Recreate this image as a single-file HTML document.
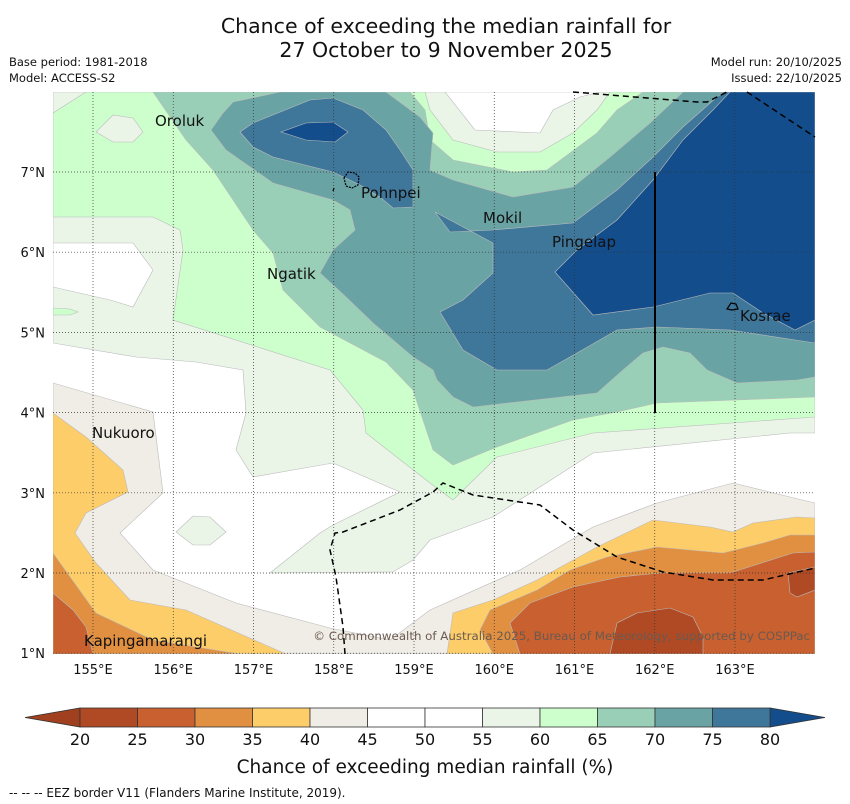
<!DOCTYPE html>
<html><head><meta charset="utf-8">
<style>
html,body{margin:0;padding:0;background:#fff;}
svg{display:block;font-family:"DejaVu Sans","Liberation Sans",sans-serif;}
</style></head>
<body>
<svg id="chart" width="850" height="804" viewBox="0 0 850 804" xmlns="http://www.w3.org/2000/svg">
<rect width="850" height="804" fill="#fff"/>
<text x="446" y="33" font-size="20.5" text-anchor="middle" fill="#111">Chance of exceeding the median rainfall for</text>
<text x="446" y="57" font-size="20.5" text-anchor="middle" fill="#111">27 October to 9 November 2025</text>
<text x="9" y="66" font-size="11.5" fill="#111">Base period: 1981-2018</text>
<text x="9" y="82" font-size="11.5" fill="#111">Model: ACCESS-S2</text>
<text x="842" y="66" font-size="11.5" fill="#111" text-anchor="end">Model run: 20/10/2025</text>
<text x="842" y="82" font-size="11.5" fill="#111" text-anchor="end">Issued: 22/10/2025</text>

<defs><clipPath id="mapclip"><rect x="53" y="92" width="762" height="562"/></clipPath></defs>
<g clip-path="url(#mapclip)" stroke="#bbb" stroke-width="0.6">
<rect x="53" y="92" width="762" height="562" fill="#fff" stroke="none"/>
<path fill="#eaf5e8" d="M53,92 L815,92 L815,433 L790,433 L593,453 L493,517 L430,540 L413,560 L393,572 L270,573 L320,533 L333,525 L400,492 L333,463 L253,477 L236,450 L246,413 L243,370 L196,362 L136,357 L53,343 Z"/>
<path fill="#fff" d="M53,243 L133,243 L153,270 L133,307 L110,300 L53,287 Z"/>
<path fill="#eaf5e8" d="M176,532 L193,516 L210,517 L226,532 L210,545 L193,545 Z"/>
<path fill="#ccffcc" d="M86,92 L815,92 L815,417 L593,433 L497,457 L453,500 L430,483 L366,433 L363,410 L330,370 L173,320 L183,250 L180,230 L153,217 L53,217 L53,113 Z"/>
<path fill="#eaf5e8" d="M96,132 L113,115 L133,118 L143,132 L133,142 L113,142 Z"/>
<path fill="#ccffcc" d="M53,308 L70,309 L78,312 L70,315 L53,315 Z"/>
<path fill="#eaf5e8" d="M425,92 L610,92 L597,110 L573,133 L540,152 L497,152 L453,140 L430,110 Z"/>
<path fill="#fff" d="M445,92 L600,92 L580,97 L553,110 L540,133 L475,130 Z"/>
<path fill="#99cfb6" d="M153,92 L410,92 L425,110 L430,140 L453,160 L513,172 L547,170 L597,133 L617,110 L643,92 L815,92 L815,397 L657,403 L617,412 L573,420 L497,447 L453,465 L433,450 L423,420 L413,390 L386,362 L320,327 L283,290 L273,253 L253,230 L213,170 L186,140 Z"/>
<path fill="#6aa3a4" d="M233,102 L280,92 L386,92 L420,117 L433,133 L430,170 L453,180 L513,197 L573,187 L610,157 L650,123 L683,92 L815,92 L815,377 L797,380 L737,383 L707,370 L690,353 L663,347 L643,353 L623,370 L597,393 L473,407 L453,397 L437,380 L433,370 L413,357 L373,323 L346,297 L320,273 L333,250 L355,230 L350,210 L333,200 L273,183 L226,150 L211,130 L223,113 Z"/>
<path fill="#3f779b" d="M240,132 L253,123 L310,100 L333,98 L363,110 L386,130 L400,150 L413,170 L413,207 L393,208 L380,197 L360,185 L333,172 L273,157 L253,147 Z"/>
<path fill="#3f779b" d="M435,212 L450,232 L493,230 L573,223 L617,190 L653,157 L683,127 L717,97 L723,92 L815,92 L815,343 L730,330 L657,327 L617,330 L577,353 L547,370 L497,370 L463,350 L440,312 L463,300 L493,273 L493,243 Z"/>
<path fill="#134d8b" d="M281,132 L306,123 L333,122 L348,132 L335,142 L306,140 Z"/>
<path fill="#134d8b" d="M555,272 L577,250 L617,220 L653,180 L683,140 L713,110 L730,92 L815,92 L815,320 L795,330 L763,313 L733,293 L710,293 L653,307 L593,315 Z"/>
<path fill="#f0ece6" d="M53,383 L153,412 L163,493 L120,533 L153,570 L236,603 L330,628 L390,640 L430,610 L520,570 L593,527 L657,503 L733,483 L790,497 L815,503 L815,654 L53,654 Z"/>
<path fill="#fdcd6a" d="M53,413 L86,437 L123,470 L128,492 L86,513 L75,533 L96,563 L130,600 L186,610 L286,654 L447,654 L453,613 L493,600 L537,580 L597,547 L653,520 L710,527 L733,532 L753,523 L797,517 L815,518 L815,654 L53,654 Z"/>
<path fill="#e09040" d="M53,553 L96,613 L153,640 L240,654 L493,654 L480,630 L490,610 L537,590 L570,570 L607,557 L657,547 L723,553 L763,543 L790,535 L815,535 L815,654 L53,654 Z"/>
<path fill="#c8602f" d="M53,593 L73,610 L86,627 L93,654 L520,654 L510,623 L530,603 L573,587 L620,577 L660,573 L730,573 L793,553 L815,552 L815,654 L53,654 Z"/>
<path fill="#b04a25" d="M610,654 L617,623 L637,613 L670,608 L693,617 L703,637 L703,654 Z"/>
<path fill="#b04a25" d="M788,573 L790,593 L797,597 L815,590 L815,567 Z"/>
</g>
<g id="grid" stroke="#333" stroke-width="0.7" stroke-dasharray="1,2" fill="none"></g>
<g fill="none" stroke="#000" stroke-width="1.5" stroke-dasharray="6,4">
<path d="M573,92 L697,102 L707,102 L727,92"/>
<path d="M747,92 L815,137"/>
<path d="M345,654 L343,627 L336,577 L330,550 L335,533 L343,532 L400,510 L433,492 L443,483 L473,495 L540,505 L573,530 L617,557 L663,572 L713,580 L763,580 L815,568"/>
</g>
<line x1="655" y1="172" x2="655" y2="413" stroke="#000" stroke-width="2"/>
<g fill="none" stroke="#000" stroke-width="1.2">
<path d="M344,178 L348,172 L355,173 L359,177 L358,185 L352,188 L346,186 Z" stroke-dasharray="2,1"/>
<path d="M727,309 L731,303 L736,304 L738,309 L732,310 Z"/>
<line x1="333" y1="191" x2="334" y2="188"/>
</g>
<g font-size="15" fill="#111">
<text x="155" y="126">Oroluk</text>
<text x="361" y="198">Pohnpei</text>
<text x="483" y="223">Mokil</text>
<text x="552" y="247">Pingelap</text>
<text x="267" y="279">Ngatik</text>
<text x="740" y="321">Kosrae</text>
<text x="92" y="438">Nukuoro</text>
<text x="84" y="646">Kapingamarangi</text>
</g>
<text x="810" y="640" font-size="11.8" fill="#6a5a50" text-anchor="end">© Commonwealth of Australia 2025, Bureau of Meteorology, supported by COSPPac</text>
<g id="axes" font-size="13" fill="#111"></g>
<g id="colorbar"></g>
<text x="425" y="773" font-size="18.5" text-anchor="middle" fill="#111">Chance of exceeding median rainfall (%)</text>
<text x="9" y="797" font-size="12" fill="#111">--  --  -- EEZ border V11 (Flanders Marine Institute, 2019).</text>
</svg>
<script>
const lonTicks = [155,156,157,158,159,160,161,162,163];
const latTicks = [1,2,3,4,5,6,7];
const cbLevels = [20,25,30,35,40,45,50,55,60,65,70,75,80];
const cbColors = ["#b04a25","#c8602f","#e09040","#fdcd6a","#f0ece6","#ffffff","#ffffff","#eaf5e8","#ccffcc","#99cfb6","#6aa3a4","#3f779b"];
const cbUnder = "#a0401f";
const cbOver = "#134d8b";

const NS = "http://www.w3.org/2000/svg";
const lonX = lon => 93 + (lon - 155) * 80.25;
const latY = lat => 172 + (7 - lat) * 80.2;
const cbX = v => 80 + (v - 20) * (690 / 60);

const grid = document.getElementById('grid');
const axes = document.getElementById('axes');
lonTicks.forEach(l => {
  const ln = document.createElementNS(NS, 'line');
  ln.setAttribute('x1', lonX(l)); ln.setAttribute('x2', lonX(l));
  ln.setAttribute('y1', 92); ln.setAttribute('y2', 654);
  
  
  grid.appendChild(ln);
  const t = document.createElementNS(NS, 'text');
  t.setAttribute('x', lonX(l)); t.setAttribute('y', 674);
  t.setAttribute('text-anchor', 'middle');
  t.textContent = l + '°E';
  
  
  axes.appendChild(t);
});
latTicks.forEach(l => {
  const ln = document.createElementNS(NS, 'line');
  ln.setAttribute('x1', 53); ln.setAttribute('x2', 815);
  ln.setAttribute('y1', latY(l)); ln.setAttribute('y2', latY(l));
  
  
  grid.appendChild(ln);
  const t = document.createElementNS(NS, 'text');
  t.setAttribute('x', 45); t.setAttribute('y', latY(l) + 5);
  t.setAttribute('text-anchor', 'end');
  t.textContent = l + '°N';
  
  
  axes.appendChild(t);
});

const cb = document.getElementById('colorbar');
const y0 = 708, y1 = 727;
const under = document.createElementNS(NS, 'polygon');
under.setAttribute('points', `${cbX(20)},${y0} ${cbX(20)},${y1} 25,${(y0+y1)/2}`);
under.setAttribute('fill', cbUnder); under.setAttribute('stroke', '#333'); under.setAttribute('stroke-width', '0.8');


cb.appendChild(under);
const over = document.createElementNS(NS, 'polygon');
over.setAttribute('points', `${cbX(80)},${y0} ${cbX(80)},${y1} 825,${(y0+y1)/2}`);
over.setAttribute('fill', cbOver); over.setAttribute('stroke', '#333'); over.setAttribute('stroke-width', '0.8');


cb.appendChild(over);
cbColors.forEach((c, i) => {
  const r = document.createElementNS(NS, 'rect');
  r.setAttribute('x', cbX(cbLevels[i])); r.setAttribute('y', y0);
  r.setAttribute('width', cbX(cbLevels[i+1]) - cbX(cbLevels[i])); r.setAttribute('height', y1 - y0);
  r.setAttribute('fill', c); r.setAttribute('stroke', '#333'); r.setAttribute('stroke-width', '0.8');
  
  
  cb.appendChild(r);
});
cbLevels.forEach(v => {
  const t = document.createElementNS(NS, 'text');
  t.setAttribute('x', cbX(v)); t.setAttribute('y', 745);
  t.setAttribute('text-anchor', 'middle'); t.setAttribute('font-size', '16'); t.setAttribute('fill', '#111');
  t.textContent = v;
  
  
  cb.appendChild(t);
});
</script>
</body></html>
